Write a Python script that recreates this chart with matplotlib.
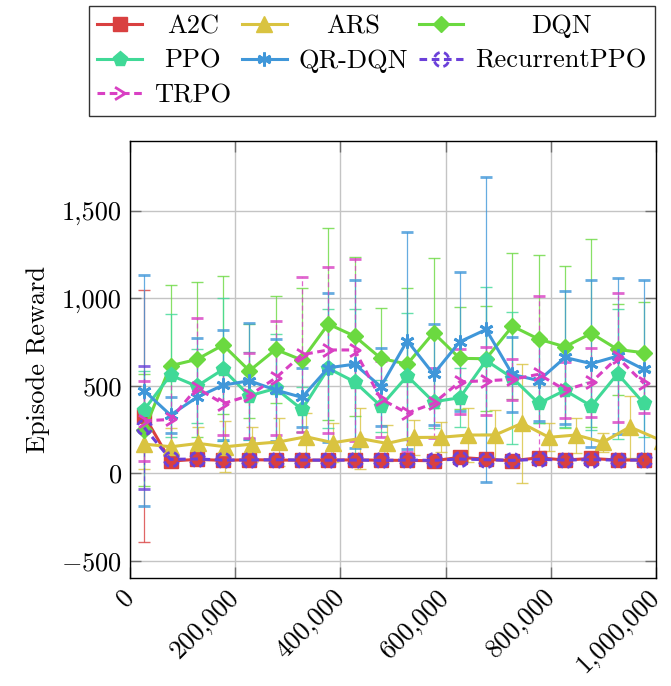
import numpy as np
import matplotlib
matplotlib.use("Agg")
import matplotlib.pyplot as plt
from matplotlib.path import Path
from matplotlib.ticker import FuncFormatter

plt.rcParams['font.family'] = ['cmr10', 'DejaVu Serif']
plt.rcParams['mathtext.fontset'] = 'cm'
plt.rcParams['axes.formatter.use_mathtext'] = True

FS = 19

# evaluation steps
steps = [27000, 77000, 127000, 177000, 227000, 277000, 327000, 377000, 427000, 477000,
         527000, 577000, 627000, 677000, 727000, 777000, 827000, 877000, 927000, 977000]
ars_steps = [27000, 78300, 129600, 180900, 232200, 283500, 334800, 386100, 437400, 488700,
             540000, 591300, 642600, 693900, 745200, 796500, 847800, 899100, 950400, 1012000]

# mean episode reward and std per algorithm
a2c = [330, 70, 80, 74, 78, 76, 75, 76, 77, 75, 74, 72, 91, 81, 72, 89, 76, 85, 76, 76]
a2c_err = [720, 20, 18, 18, 20, 18, 18, 18, 18, 18, 18, 18, 20, 18, 18, 20, 18, 18, 18, 18]

ars = [167, 152, 171, 152, 167, 180, 209, 175, 199, 171, 205, 206, 219, 219, 286, 206, 219, 178, 265, 185]
ars_err = [140, 105, 95, 145, 100, 139, 137, 110, 176, 103, 101, 86, 157, 143, 340, 80, 100, 55, 175, 70]

dqn = [247, 615, 651, 733, 586, 708, 647, 853, 784, 657, 624, 803, 657, 655, 841, 767, 723, 800, 708, 689]
dqn_err = [322, 461, 444, 396, 270, 307, 413, 547, 454, 286, 436, 429, 291, 299, 418, 482, 462, 537, 258, 288]

ppo = [364, 561, 498, 594, 443, 485, 365, 600, 523, 384, 556, 409, 432, 645, 545, 400, 474, 385, 569, 400]
ppo_err = [221, 351, 210, 409, 250, 309, 130, 339, 418, 150, 362, 150, 170, 419, 377, 110, 210, 138, 372, 190]

qrdqn = [472, 333, 434, 504, 529, 476, 434, 603, 624, 495, 758, 567, 752, 822, 565, 530, 662, 627, 670, 594]
qrdqn_err = [661, 105, 337, 313, 331, 291, 170, 425, 480, 223, 619, 288, 396, 869, 215, 229, 380, 478, 444, 509]

rppo = [262, 80, 82, 76, 76, 78, 76, 75, 76, 74, 76, 74, 82, 78, 74, 80, 76, 78, 76, 76]
rppo_err = [350, 15, 15, 15, 15, 15, 15, 15, 15, 15, 15, 15, 15, 15, 15, 15, 15, 15, 15, 15]

trpo = [300, 308, 488, 398, 445, 545, 678, 705, 705, 425, 344, 400, 523, 529, 537, 566, 477, 520, 662, 514]
trpo_err = [228, 250, 398, 180, 242, 327, 444, 476, 519, 216, 220, 200, 185, 195, 118, 446, 160, 198, 371, 168]


def dashed_circle():
    parts = [Path.arc(a, a + 55) for a in (15, 105, 195, 285)]
    return Path.make_compound_path(*parts)


def arrow_mark():
    return Path([(-0.7, 0.8), (0.6, 0.0), (-0.7, -0.8)],
                [Path.MOVETO, Path.LINETO, Path.LINETO])


series = [
    ("A2C", steps, a2c, a2c_err, "#d94040", "s", 10, "-"),
    ("ARS", ars_steps, ars, ars_err, "#d9c340", "^", 11, "-"),
    ("DQN", steps, dqn, dqn_err, "#6bd940", "D", 8, "-"),
    ("PPO", steps, ppo, ppo_err, "#40d997", "p", 11, "-"),
    ("QR-DQN", steps, qrdqn, qrdqn_err, "#4097d9", (6, 2, 0), 10, "-"),
    ("RecurrentPPO", steps, rppo, rppo_err, "#6b40d9", dashed_circle(), 10, "--"),
    ("TRPO", steps, trpo, trpo_err, "#d940c3", arrow_mark(), 9, "--"),
]

fig = plt.figure(figsize=(6.71, 6.86), dpi=100)
ax = fig.add_axes([130/671, 1-578/686, (656-130)/671, (578-141)/686])

handles = {}
for name, xs, ys, err, c, mk, ms, ls in series:
    open_mark = isinstance(mk, Path) or isinstance(mk, tuple)
    line, caps, bars = ax.errorbar(xs, ys, yerr=err, color=c, lw=2.2,
                                   marker=mk, ms=ms, mec=c,
                                   mfc='none' if open_mark else c,
                                   mew=2.0 if open_mark else 1.0,
                                   capsize=4, elinewidth=0.9, capthick=0.9)
    if ls == "--":
        line.set_dashes((2.5, 1.5))
        for b in bars:
            b.set_linestyle((0, (4, 2.5)))
    for cp in caps:
        cp.set_alpha(0.8)
    for b in bars:
        b.set_alpha(0.8)
    handles[name] = line

ax.set_xlim(0, 1000000)
ax.set_ylim(-598, 1899)
ax.set_xticks([0, 200000, 400000, 600000, 800000, 1000000])
ax.set_yticks([-500, 0, 500, 1000, 1500])


def fmt(v, pos):
    s = f"{abs(v):,.0f}"
    return ("$-$" + s) if v < 0 else s


ax.xaxis.set_major_formatter(FuncFormatter(fmt))
ax.yaxis.set_major_formatter(FuncFormatter(fmt))
ax.grid(True, color="#c4c4c4", lw=1.0)
ax.set_axisbelow(True)
ax.tick_params(direction='in', length=8, width=1, color='#707070',
               top=True, right=True, labelsize=FS, pad=6)
ax.tick_params(axis='x', pad=11)
for lab in ax.get_xticklabels():
    lab.set_rotation(45)
    lab.set_ha('right')
    lab.set_va('center')
    lab.set_rotation_mode('anchor')
for sp in ax.spines.values():
    sp.set_linewidth(1.0)

ax.set_ylabel("Episode Reward", fontsize=FS, labelpad=8)

# legend is filled column by column, so order the entries to read row-wise
order = ["A2C", "PPO", "TRPO", "ARS", "QR-DQN", "DQN", "RecurrentPPO"]
leg = fig.legend([handles[n] for n in order], order, ncol=3, loc='center',
                 bbox_to_anchor=(372/671, 1-61/686), fontsize=FS,
                 frameon=True, fancybox=False, edgecolor='black',
                 handlelength=1.7, handletextpad=0.45, columnspacing=0.4,
                 borderpad=0.3, labelspacing=0.42, numpoints=1,
                 borderaxespad=0)
leg.get_frame().set_linewidth(1.0)

# centre the legend texts within their columns, like pgfplots does
fig.canvas.draw()
renderer = fig.canvas.get_renderer()
texts = leg.get_texts()
for col in ([0, 1, 2], [3, 4], [5, 6]):
    widths = [texts[i].get_window_extent(renderer).width for i in col]
    for i, w in zip(col, widths):
        texts[i].set_x((max(widths) - w) / 2)

fig.savefig("out.png", dpi=100)
